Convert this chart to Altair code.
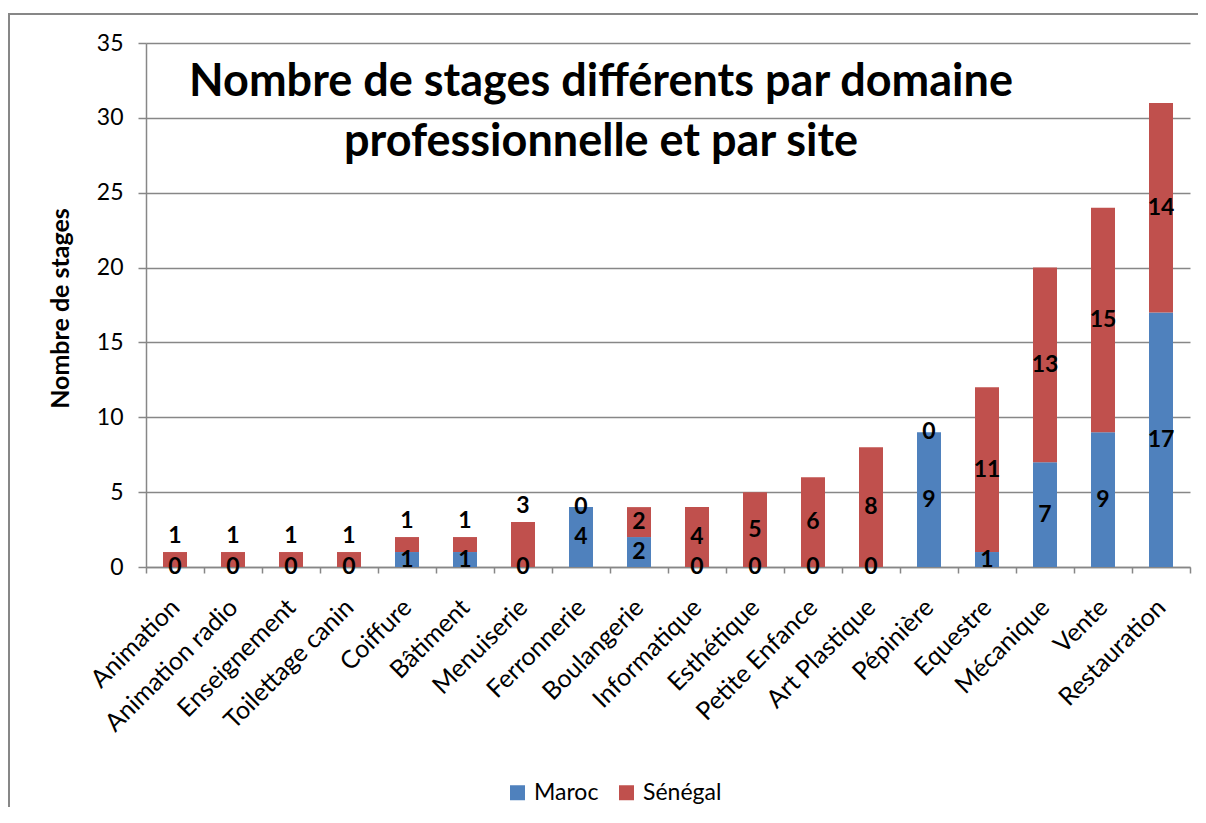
import altair as alt
import pandas as pd

categories = ["Animation", "Animation radio", "Enseignement", "Toilettage canin",
              "Coiffure", "Bâtiment", "Menuiserie", "Ferronnerie", "Boulangerie",
              "Informatique", "Esthétique", "Petite Enfance", "Art Plastique",
              "Pépinière", "Equestre", "Mécanique", "Vente", "Restauration"]
maroc = [0, 0, 0, 0, 1, 1, 0, 4, 2, 0, 0, 0, 0, 9, 1, 7, 9, 17]
senegal = [1, 1, 1, 1, 1, 1, 3, 0, 2, 4, 5, 6, 8, 0, 11, 13, 15, 14]
sites = ["Maroc", "Sénégal"]
colors = ["#4F81BD", "#C0504D"]
title_lines = ["Nombre de stages différents par domaine", "professionnelle et par site"]
y_title = "Nombre de stages"
y_ticks = [0, 5, 10, 15, 20, 25, 30, 35]

rows = []
for c, m, s in zip(categories, maroc, senegal):
    rows.append(dict(cat=c, site="Maroc", v=m, y0=0, y1=m, small_base=m))
    rows.append(dict(cat=c, site="Sénégal", v=s, y0=m, y1=m + s, small_base=m))
df = pd.DataFrame(rows)
df["mid"] = (df["y0"] + df["y1"]) / 2
# small Sénégal segments had their labels lifted above the bar
df["above"] = (df["site"] == "Sénégal") & (df["v"] > 0) & (df["v"] <= 3) & (df["small_base"] <= 1)

FONT = "Lato"
GRAY = "#878787"

x_enc = alt.X("cat:N", sort=categories, title=None,
              scale=alt.Scale(paddingInner=0, paddingOuter=0),
              axis=alt.Axis(labelAngle=-45, labelAlign="right", labelBaseline="middle",
                            labelFont=FONT, labelFontSize=25, labelColor="black",
                            labelPadding=30, tickBand="extent", tickSize=6,
                            tickColor=GRAY, tickWidth=1.5, domainColor=GRAY,
                            domainWidth=1.5, grid=False, labelOverlap=False))

base = alt.Chart(df)

bars = base.mark_bar(size=24).encode(
    x=x_enc,
    y=alt.Y("y0:Q", scale=alt.Scale(domain=[0, 35], nice=False),
            axis=alt.Axis(values=y_ticks, title=y_title, titleFont=FONT,
                          titleFontSize=25, titleFontWeight="bold", titleColor="black",
                          titleX=-86, titleY=265, titleAngle=-90, titleAlign="center",
                          titleBaseline="middle",
                          labelFont=FONT, labelFontSize=23, labelColor="black",
                          labelPadding=15, tickSize=8, tickColor=GRAY, tickWidth=1.5,
                          domainColor=GRAY, domainWidth=1.5, gridColor=GRAY,
                          gridWidth=1.5)),
    y2="y1:Q",
    color=alt.Color("site:N", scale=alt.Scale(domain=sites, range=colors),
                    legend=alt.Legend(title=None, orient="none", legendX=360, legendY=738,
                                      direction="horizontal", symbolType="square",
                                      symbolSize=225, symbolStrokeWidth=0,
                                      labelFont=FONT, labelFontSize=23, labelColor="black",
                                      columnPadding=16, labelOffset=5, padding=0)),
)

labels_mid = base.transform_filter("!datum.above").mark_text(
    font=FONT, fontSize=23, fontWeight="bold", color="black", baseline="middle"
).encode(x=alt.X("cat:N", sort=categories), y="mid:Q", text="v:Q")

labels_top = base.transform_filter("datum.above").mark_text(
    font=FONT, fontSize=23, fontWeight="bold", color="black", baseline="middle", dy=-16
).encode(x=alt.X("cat:N", sort=categories), y="y1:Q", text="v:Q")

one = pd.DataFrame({"k": [0]})
title = alt.Chart(one).mark_text(
    text=title_lines, font=FONT, fontSize=45, fontWeight="bold", color="black",
    align="center", baseline="middle", lineHeight=60
).encode(x=alt.value(455), y=alt.value(39))

frame_top = alt.Chart(one).mark_rule(color=GRAY, strokeWidth=2).encode(
    x=alt.value(-137), x2=alt.value(1052), y=alt.value(-29))
frame_left = alt.Chart(one).mark_rect(color=GRAY).encode(
    x=alt.value(-138), x2=alt.value(-136), y=alt.value(-30), y2=alt.value(780))

chart = alt.layer(frame_top, frame_left, bars, labels_mid, labels_top, title).properties(
    width=1044, height=524,
    padding={"left": 138, "top": 35, "right": 8, "bottom": 240},
    autosize="none",
).configure_view(stroke=None)

chart.save("out.html", embed_options={"renderer": "svg", "actions": False})
